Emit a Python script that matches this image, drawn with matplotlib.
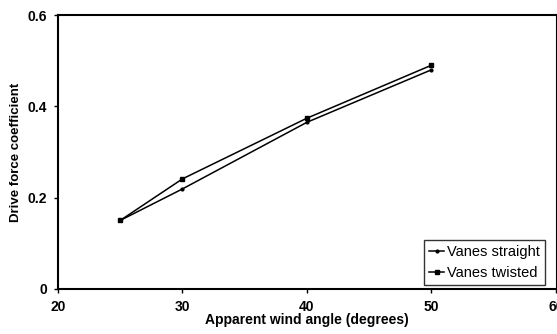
import matplotlib
matplotlib.use("Agg")
import matplotlib.pyplot as plt

plt.rcParams['font.family'] = ['Liberation Sans', 'DejaVu Sans']

angle = [25, 30, 40, 50]
straight = [0.15, 0.219, 0.365, 0.48]
twisted = [0.15, 0.241, 0.374, 0.49]

x_ticks = [20, 30, 40, 50, 60]
y_ticks = [0, 0.2, 0.4, 0.6]

fig = plt.figure(figsize=(5.57, 3.34), dpi=100)
ax = fig.add_axes([0.104, 0.135, 0.894, 0.82])

ax.plot(angle, straight, color='black', lw=1.1, marker='o', ms=2, label='Vanes straight')
ax.plot(angle, twisted, color='black', lw=1.1, marker='s', ms=2.5, label='Vanes twisted')

ax.set_xlim(20, 60)
ax.set_ylim(0, 0.6)
ax.set_xticks(x_ticks)
ax.set_yticks(y_ticks)
ax.set_xticklabels([str(t) for t in x_ticks], fontsize=10, fontweight='bold')
ax.set_yticklabels(['0', '0.2', '0.4', '0.6'], fontsize=10, fontweight='bold')
ax.tick_params(direction='out', length=3, width=1, pad=5)

for side in ['top', 'left', 'bottom']:
    ax.spines[side].set_linewidth(1.5)
ax.spines['right'].set_linewidth(0.8)

ax.set_xlabel('Apparent wind angle (degrees)', fontsize=10, fontweight='bold', labelpad=-1)
ax.set_ylabel('Drive force coefficient', fontsize=9.5, fontweight='bold', labelpad=4)

leg = ax.legend(loc='lower right', bbox_to_anchor=(0.978, 0.015), fontsize=10.5,
                frameon=True, fancybox=False, edgecolor='black', handlelength=1.0,
                handletextpad=0.2, borderpad=0.35, labelspacing=0.45, borderaxespad=0)
leg.get_frame().set_linewidth(1.0)

fig.savefig('out.png', dpi=100)
